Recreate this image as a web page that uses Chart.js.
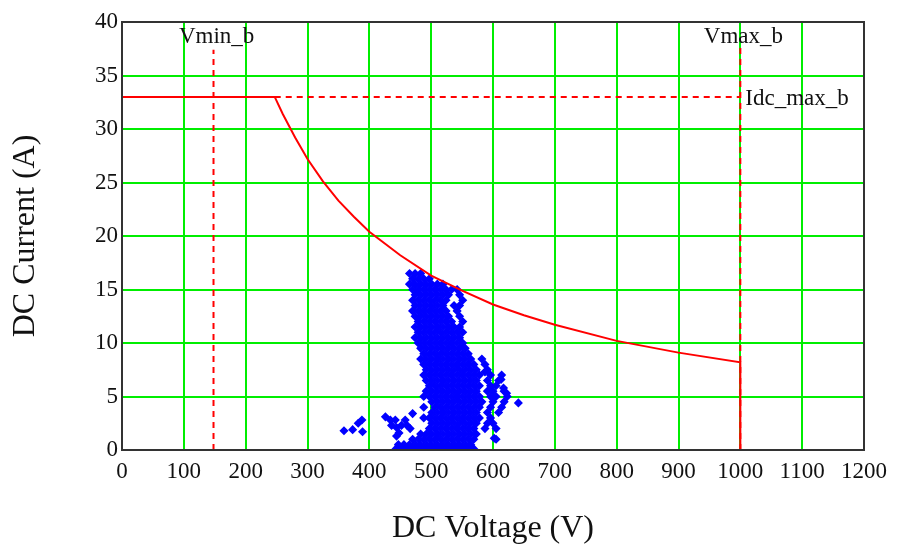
<!DOCTYPE html>
<html>
<head>
<meta charset="utf-8">
<script src="https://cdn.jsdelivr.net/npm/chart.js@4.4.1/dist/chart.umd.min.js"></script>
<style>
  html, body { margin: 0; padding: 0; background: #fff; }
  #wrap { width: 897px; height: 548px; }
</style>
</head>
<body>
<div id="wrap"><canvas id="chart" width="897" height="548"></canvas></div>
<script>
// ===== DATA =====
const xTicks = [0, 100, 200, 300, 400, 500, 600, 700, 800, 900, 1000, 1100, 1200];
const yTicks = [0, 5, 10, 15, 20, 25, 30, 35, 40];

// inverter limits
const vMinB = 148;     // V
const vMaxB = 1000;    // V
const idcMaxB = 33;    // A

// solid red limit: flat part, then constant-power curve, then drop at Vmax
const limitV = [0, 247, 260, 280, 300, 325, 350, 375, 400, 450, 500, 550, 600, 650, 700, 800, 900, 1000, 1000];
const limitI = [33, 33, 31.4, 29.2, 27.2, 25.1, 23.3, 21.8, 20.4, 18.2, 16.3, 14.9, 13.6, 12.6, 11.7, 10.2, 9.1, 8.2, 0];

// measured operating points, one row per current level: [I, [voltages]]
const clusterRows = [
  [16.5, [465, 474, 483]],
  [16.0, [470, 479, 488, 497]],
  [15.5, [465, 474, 483, 492, 501, 510, 519]],
  [15.0, [470, 479, 488, 497, 506, 515, 524, 533, 542]],
  [14.5, [474, 483, 492, 501, 510, 519, 528, 546]],
  [14.0, [470, 479, 488, 497, 506, 515, 524, 551]],
  [13.5, [474, 483, 492, 501, 510, 519, 537, 546]],
  [13.0, [470, 479, 488, 497, 506, 515, 524, 542]],
  [12.5, [474, 483, 492, 501, 510, 519, 528, 546]],
  [12.0, [479, 488, 497, 506, 515, 524, 533, 551]],
  [11.5, [474, 483, 492, 501, 510, 519, 528, 537, 546]],
  [11.0, [479, 488, 497, 506, 515, 524, 533, 542, 551]],
  [10.5, [474, 483, 492, 501, 510, 519, 528, 537, 546]],
  [10.0, [479, 488, 497, 506, 515, 524, 533, 542, 551]],
  [9.5,  [483, 492, 501, 510, 519, 528, 537, 546, 555]],
  [9.0,  [488, 497, 506, 515, 524, 533, 542, 551, 560]],
  [8.5,  [483, 492, 501, 510, 519, 528, 537, 546, 555, 564, 582]],
  [8.0,  [488, 497, 506, 515, 524, 533, 542, 551, 560, 569, 587]],
  [7.5,  [492, 501, 510, 519, 528, 537, 546, 555, 564, 573, 591]],
  [7.0,  [488, 497, 506, 515, 524, 533, 542, 551, 560, 569, 578, 596, 614]],
  [6.5,  [492, 501, 510, 519, 528, 537, 546, 555, 564, 573, 591, 609]],
  [6.0,  [497, 506, 515, 524, 533, 542, 551, 560, 569, 578, 596, 605]],
  [5.5,  [492, 501, 510, 519, 528, 537, 546, 555, 564, 573, 591, 600, 618]],
  [5.0,  [488, 497, 506, 515, 524, 533, 542, 551, 560, 569, 578, 596, 605, 623]],
  [4.5,  [501, 510, 519, 528, 537, 546, 555, 564, 573, 582, 600, 618]],
  [4.0,  [488, 506, 515, 524, 533, 542, 551, 560, 569, 578, 596, 614]],
  [3.5,  [501, 510, 519, 528, 537, 546, 555, 564, 573, 591, 609]],
  [3.0,  [488, 497, 506, 515, 524, 533, 542, 551, 560, 569, 578, 596]],
  [2.5,  [501, 510, 519, 528, 537, 546, 555, 564, 573, 591, 600]],
  [2.0,  [497, 506, 515, 524, 533, 542, 551, 560, 569, 587, 605]],
  [1.5,  [483, 492, 501, 510, 519, 528, 537, 546, 555, 564, 573]],
  [1.0,  [470, 479, 488, 497, 506, 515, 524, 533, 542, 551, 560, 569, 605]],
  [0.5,  [447, 456, 465, 474, 483, 492, 501, 510, 519, 528, 537, 546, 555, 564]],
  [0.1,  [443, 452, 461, 470, 479, 488, 497, 506, 515, 524, 533, 542, 551, 560, 569]]
];

// scattered points away from the main column
const strayV = [359, 373, 382, 388, 389, 426, 434, 442, 436, 444, 452, 448, 444, 458, 461, 470, 466, 641, 622, 587, 613, 617, 602];
const strayI = [1.8, 1.9, 2.5, 2.8, 1.7, 3.1, 2.8, 2.8, 2.3, 2.1, 2.3, 1.6, 1.3, 2.8, 2.3, 3.4, 2.0, 4.4, 5.3, 7.3, 6.6, 5.8, 1.1];

// ===== BUILD DATASETS =====
const RED = '#ff0000';
const BLUE = '#0000ff';
const GREEN = '#00ee00';
const SERIF = '"Liberation Serif", "DejaVu Serif", serif';

const limitPts = limitV.map((v, i) => ({ x: v, y: limitI[i] }));
const scatterPts = [];
clusterRows.forEach(([cur, volts]) => volts.forEach(v => scatterPts.push({ x: v, y: cur })));
strayV.forEach((v, i) => scatterPts.push({ x: v, y: strayI[i] }));

const dashed = (pts) => ({
  data: pts, showLine: true, borderColor: RED, borderWidth: 2,
  borderDash: [6, 5], pointRadius: 0, fill: false
});

// frame + text labels next to the limit lines
const limitLabels = {
  id: 'limitLabels',
  afterDatasetsDraw(chart) {
    const { ctx, scales: { x, y }, chartArea: a } = chart;
    ctx.save();
    ctx.strokeStyle = '#333';
    ctx.lineWidth = 2;
    ctx.strokeRect(a.left, a.top, a.right - a.left, a.bottom - a.top);

    ctx.fillStyle = '#111';
    ctx.font = '23px ' + SERIF;
    ctx.textBaseline = 'middle';
    ctx.textAlign = 'center';
    ctx.fillText('Vmin_b', x.getPixelForValue(vMinB + 5), y.getPixelForValue(38.6));
    ctx.fillText('Vmax_b', x.getPixelForValue(vMaxB + 5), y.getPixelForValue(38.6));
    ctx.textAlign = 'left';
    ctx.fillText('Idc_max_b', x.getPixelForValue(vMaxB + 8), y.getPixelForValue(idcMaxB - 0.2));
    ctx.restore();
  }
};

new Chart(document.getElementById('chart'), {
  type: 'scatter',
  data: {
    datasets: [
      { data: limitPts, showLine: true, borderColor: RED, borderWidth: 2, pointRadius: 0, fill: false },
      dashed([{ x: vMinB, y: 0 }, { x: vMinB, y: 37.4 }]),
      dashed([{ x: vMaxB, y: 0 }, { x: vMaxB, y: 37.7 }]),
      dashed([{ x: limitV[1], y: idcMaxB }, { x: vMaxB, y: idcMaxB }]),
      {
        data: scatterPts, pointStyle: 'rectRot', pointRadius: 3.5,
        backgroundColor: BLUE, borderColor: BLUE, borderWidth: 1.5, showLine: false
      }
    ]
  },
  options: {
    responsive: false,
    animation: false,
    layout: { padding: { top: 22, right: 33, left: 0, bottom: 0 } },
    plugins: { legend: { display: false }, tooltip: { enabled: false } },
    scales: {
      x: {
        type: 'linear', min: 0, max: 1200,
        afterFit(s) { s.height = 98; },
        afterBuildTicks(s) { s.ticks = xTicks.map(v => ({ value: v })); },
        ticks: { color: '#111', padding: 8, font: { family: SERIF, size: 23 }, callback: v => String(v) },
        grid: { color: GREEN, lineWidth: 2, drawTicks: false },
        border: { color: '#333', width: 2 },
        title: {
          display: true, text: 'DC Voltage (V)', color: '#111',
          font: { family: SERIF, size: 32 }, padding: { bottom: 0 }
        }
      },
      y: {
        type: 'linear', min: 0, max: 40,
        afterFit(s) { s.width = 122; },
        afterBuildTicks(s) { s.ticks = yTicks.map(v => ({ value: v })); },
        ticks: { color: '#111', padding: 4, font: { family: SERIF, size: 23 }, callback: v => String(v) },
        grid: { color: GREEN, lineWidth: 2, drawTicks: false },
        border: { color: '#333', width: 2 },
        title: {
          display: true, text: 'DC Current (A)', color: '#111',
          font: { family: SERIF, size: 32 }, padding: { top: 6 }
        }
      }
    }
  },
  plugins: [limitLabels]
});
</script>
</body>
</html>
